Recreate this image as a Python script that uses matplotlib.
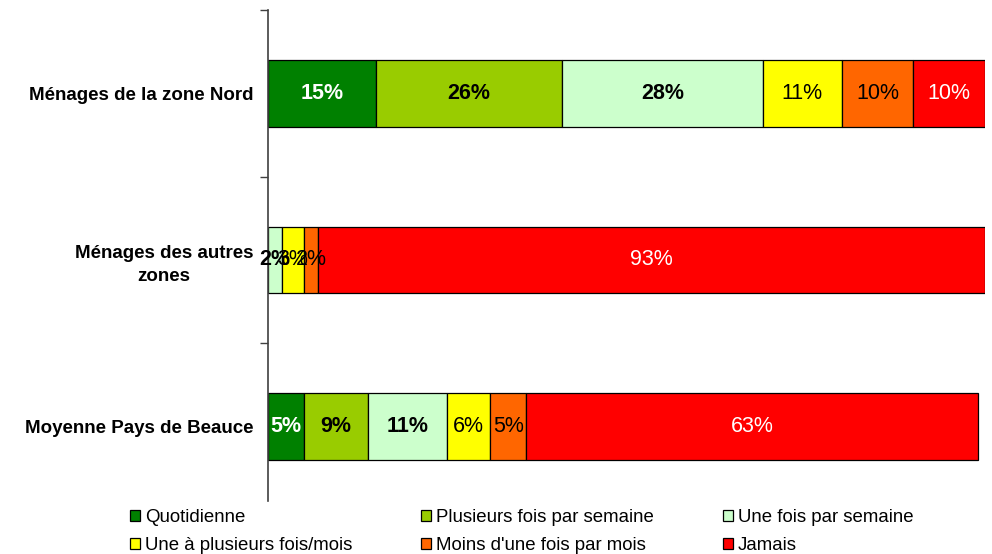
import matplotlib.pyplot as plt
import numpy as np

plt.rcParams['font.family'] = ['Liberation Sans', 'DejaVu Sans']

categories = ['Ménages de la zone Nord', 'Ménages des autres\nzones', 'Moyenne Pays de Beauce']
series = ['Quotidienne', 'Plusieurs fois par semaine', 'Une fois par semaine',
          'Une à plusieurs fois/mois', "Moins d'une fois par mois", 'Jamais']

quotidienne = [15, 0, 5]
plusieurs_semaine = [26, 0, 9]
une_semaine = [28, 2, 11]
une_plusieurs_mois = [11, 3, 6]
moins_mois = [10, 2, 5]
jamais = [10, 93, 63]

values = [quotidienne, plusieurs_semaine, une_semaine, une_plusieurs_mois, moins_mois, jamais]
colors = ['#008000', '#99CC00', '#CCFFCC', '#FFFF00', '#FF6600', '#FF0000']
text_colors = ['white', 'black', 'black', 'black', 'black', 'white']
weights = ['bold', 'bold', 'bold', 'normal', 'normal', 'normal']

fig = plt.figure(figsize=(9.92, 5.54), dpi=100)
ax = fig.add_axes([268 / 992, 1 - 501 / 554, 717 / 992, 491 / 554])

y = np.arange(len(categories))
left = np.zeros(len(categories))
handles = []
for vals, name, color, tcolor, weight in zip(values, series, colors, text_colors, weights):
    vals = np.array(vals, dtype=float)
    bars = ax.barh(y, vals, left=left, height=0.4, color=color,
                   edgecolor='black', linewidth=0.9, label=name)
    labels = [f'{int(v)}%' if v > 0 else '' for v in vals]
    ax.bar_label(bars, labels=labels, label_type='center', color=tcolor,
                 fontsize=15.5, fontweight=weight)
    handles.append(bars)
    left += vals

ax.set_xlim(0, 100)
ax.set_ylim(2.447, -0.5)

# category names centred on the bars, tick marks on the boundaries
ax.set_yticks(y)
ax.set_yticklabels(categories, fontsize=13.5, fontweight='bold',
                   multialignment='center', linespacing=1.5)
ax.tick_params(axis='y', which='major', length=0, pad=10.5)
ax.set_yticks([-0.5, 0.5, 1.5], minor=True)
ax.tick_params(axis='y', which='minor', length=6, width=1, color='#404040', direction='out')

ax.set_xticks([])
for s in ['top', 'right', 'bottom']:
    ax.spines[s].set_visible(False)
ax.spines['left'].set_color('#404040')
ax.spines['left'].set_linewidth(1.2)

# legend filled column by column, so reorder to read row by row
order = [0, 3, 1, 4, 2, 5]
fig.legend([handles[i] for i in order], [series[i] for i in order],
           loc='upper left', bbox_to_anchor=(130 / 992, 1 - 509 / 554),
           ncol=3, frameon=False, fontsize=13.4, borderpad=0, borderaxespad=0,
           handlelength=0.55, handleheight=0.55, handletextpad=0.25,
           labelspacing=0.58, columnspacing=3.7)

fig.savefig('out.png', dpi=100)
